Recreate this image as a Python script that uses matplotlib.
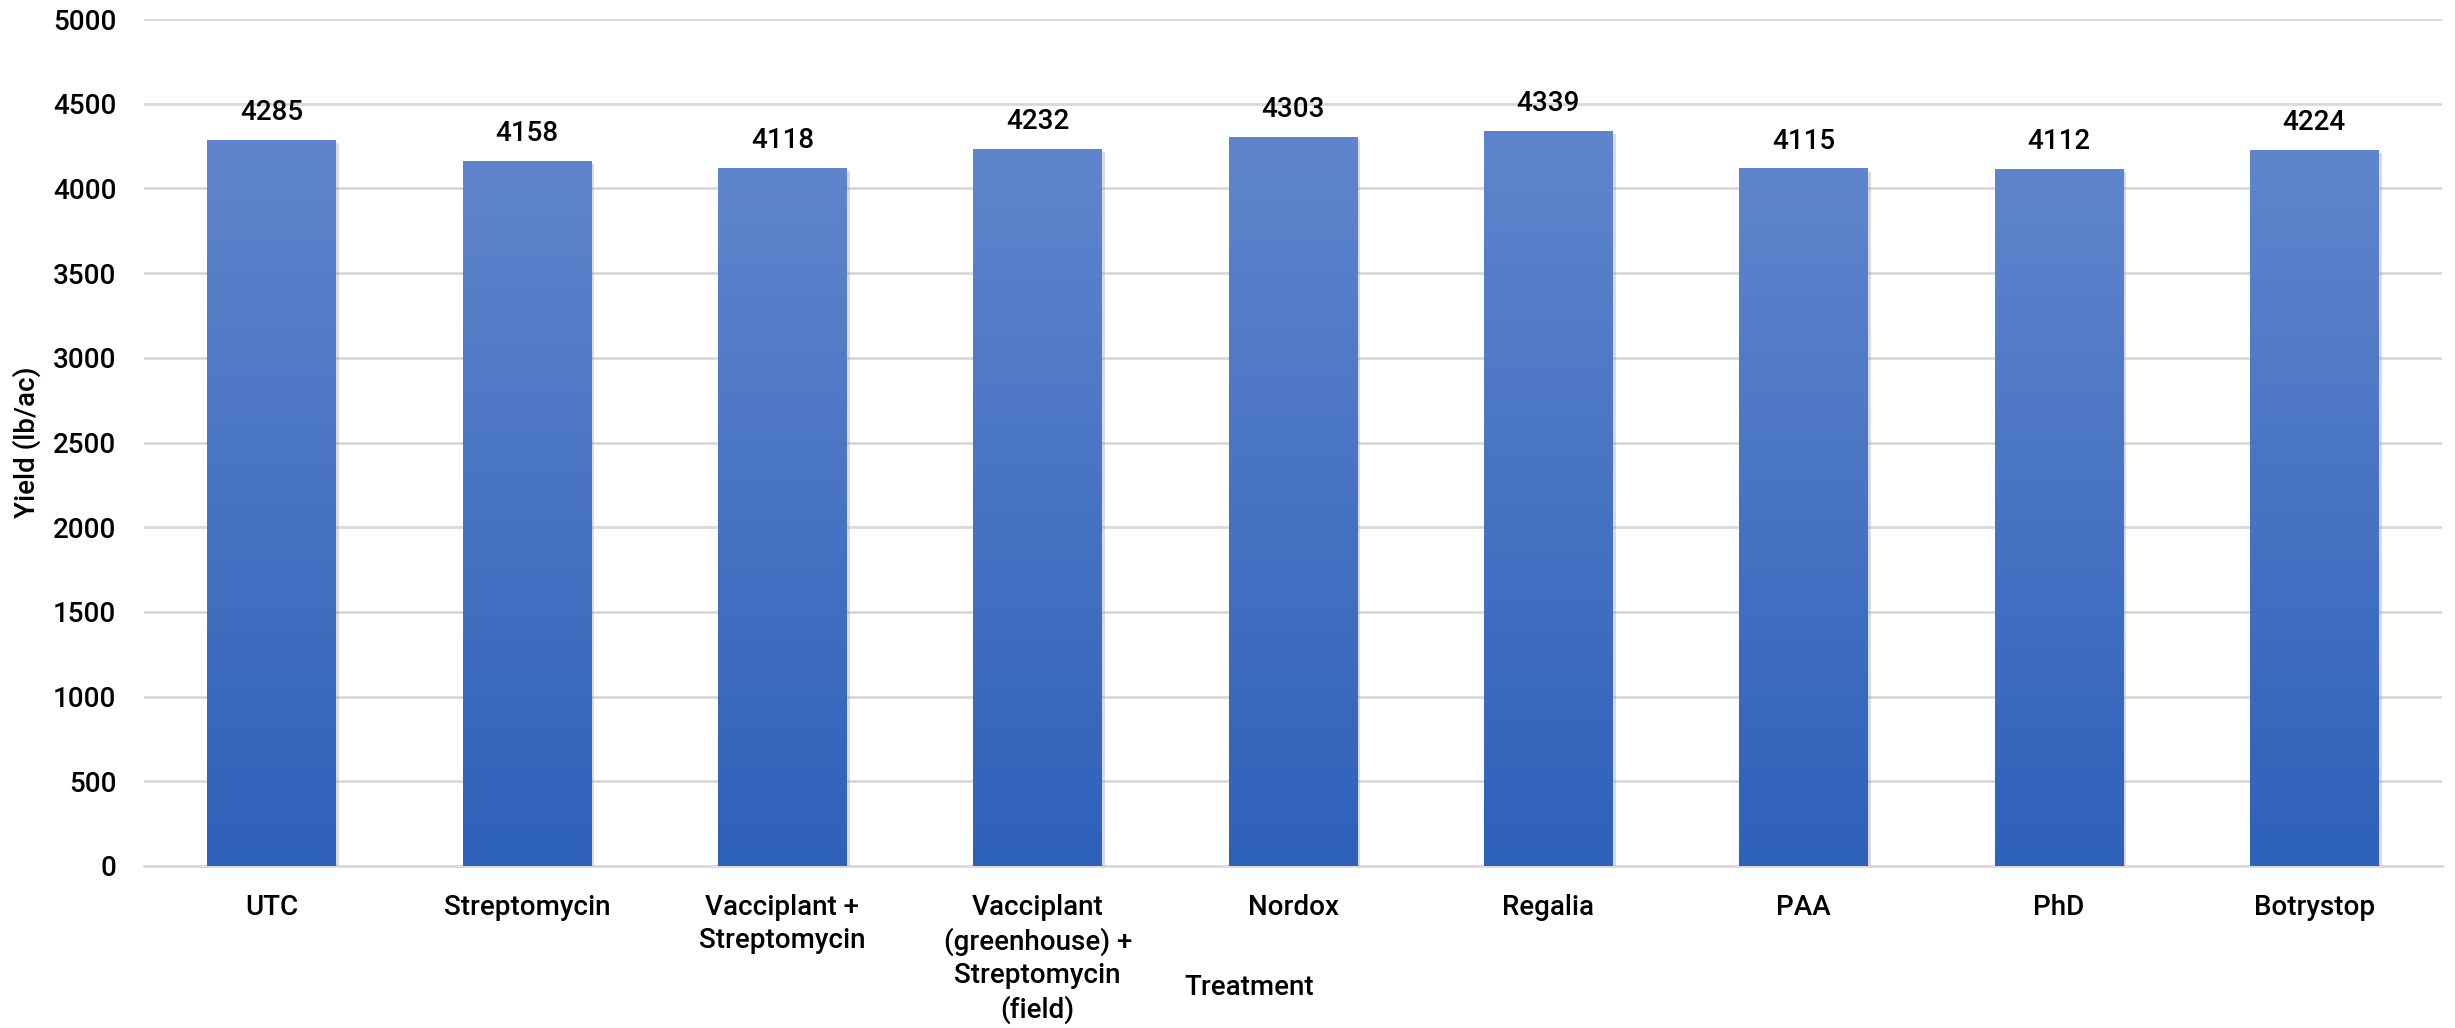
import numpy as np
import matplotlib
matplotlib.use("Agg")
import matplotlib.pyplot as plt
from matplotlib.colors import LinearSegmentedColormap
import matplotlib.patheffects as pe

plt.rcParams['font.family'] = ['Roboto', 'DejaVu Sans']
plt.rcParams['font.weight'] = 'medium'
plt.rcParams['axes.labelweight'] = 'medium'

treatments = ["UTC", "Streptomycin", "Vacciplant +\nStreptomycin",
              "Vacciplant\n(greenhouse) +\nStreptomycin\n(field)",
              "Nordox", "Regalia", "PAA", "PhD", "Botrystop"]
yield_lb_ac = [4285, 4158, 4118, 4232, 4303, 4339, 4115, 4112, 4224]
y_ticks = [0, 500, 1000, 1500, 2000, 2500, 3000, 3500, 4000, 4500, 5000]

FS = 20

fig = plt.figure(figsize=(24.55, 10.28), dpi=100)
ax = fig.add_axes([0.0587, 0.1576, 0.9360, 0.8239])

x = np.arange(len(treatments))
bars = ax.bar(x, yield_lb_ac, width=0.505, color="none", zorder=3,
              path_effects=[pe.SimplePatchShadow(offset=(2, -2), shadow_rgbFace="#999999", alpha=0.35),
                            pe.Normal()])

# gradient fill for each bar, lighter on top
cmap = LinearSegmentedColormap.from_list("blue_grad", ["#2E61BA", "#6085CC"])
grad = np.linspace(0, 1, 256).reshape(-1, 1)
for b in bars:
    x0, y0 = b.get_x(), b.get_y()
    w, h = b.get_width(), b.get_height()
    ax.imshow(grad, extent=[x0, x0 + w, y0, y0 + h], origin="lower",
              aspect="auto", cmap=cmap, zorder=3.5)

for xi, v in zip(x, yield_lb_ac):
    ax.text(xi, v + 85, str(v), ha="center", va="bottom", fontsize=FS,
            color="#000000")

ax.set_xlim(-0.5, len(treatments) - 0.5)
ax.set_ylim(0, 5000)
ax.set_yticks(y_ticks)
ax.set_xticks(x)
ax.set_xticklabels(treatments, fontsize=FS, linespacing=1.3)
ax.tick_params(axis="y", labelsize=FS, length=0, pad=20, labelcolor="#000000")
ax.tick_params(axis="x", length=0, pad=20, labelcolor="#000000")

ax.grid(axis="y", color="#D9D9D9", linewidth=2, zorder=0)
ax.set_axisbelow(True)
for s in ["top", "right", "left"]:
    ax.spines[s].set_visible(False)
ax.spines["bottom"].set_color("#D9D9D9")
ax.spines["bottom"].set_linewidth(2)

ax.set_ylabel("Yield (lb/ac)", fontsize=FS, va="center")
ax.yaxis.set_label_coords(-0.051, 0.5)
ax.set_xlabel("Treatment", fontsize=FS, va="center")
ax.xaxis.set_label_coords(0.481, -0.143)

fig.savefig("out.png", dpi=100)
